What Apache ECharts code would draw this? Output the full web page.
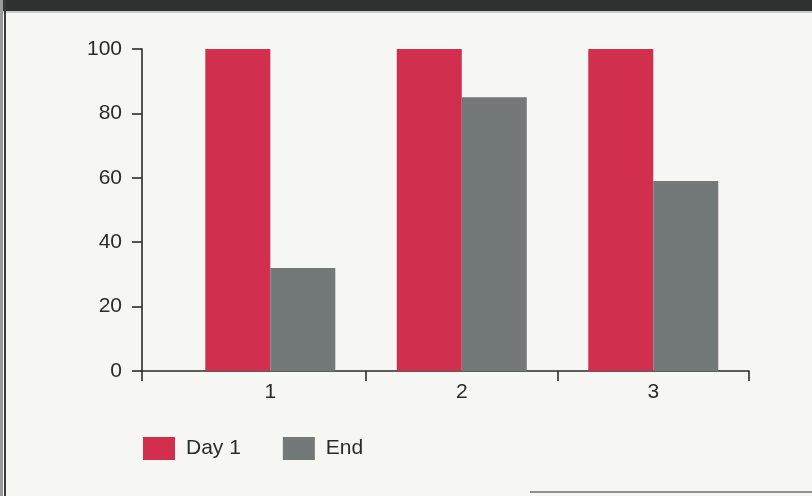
<!DOCTYPE html>
<html>
<head>
<meta charset="utf-8">
<script src="https://cdn.jsdelivr.net/npm/echarts@6/dist/echarts.min.js"></script>
<style>
  html, body { margin: 0; padding: 0; background: #f6f6f3; }
  #chart { width: 812px; height: 496px; }
</style>
</head>
<body>
<div id="chart"></div>
<script>
// Category positions and their labels
const categories = [1, 2, 3];
const categoryLabels = ['1', '2', '3'];
// Scores on the first day and at the end
const day1Values = [100, 100, 100];
const endValues = [32, 85, 59];
// Value axis ticks
const yTicks = [0, 20, 40, 60, 80, 100];
const seriesNames = ['Day 1', 'End'];

const RED = '#d22e4e';
const GREY = '#727978';
const INK = '#2b2b2b';
const FONT = '"Liberation Sans", Arial, Helvetica, sans-serif';
const FONT_SIZE = 21;

const xMin = 0.33, xMax = 3.5;
const xTickValues = [xMin, 1.5, 2.5, 3.5];

const chart = echarts.init(document.getElementById('chart'), null, { renderer: 'canvas' });

chart.setOption({
  backgroundColor: '#f6f6f3',
  animation: false,
  textStyle: { fontFamily: FONT },
  graphic: [
    // dark band across the top and the frame on the left
    { type: 'rect', shape: { x: 0, y: 0, width: 812, height: 11 }, style: { fill: '#2f3130' }, silent: true },
    { type: 'rect', shape: { x: 0, y: 11, width: 812, height: 2 }, style: { fill: '#c9cbca' }, silent: true },
    { type: 'rect', shape: { x: 0, y: 0, width: 3, height: 496 }, style: { fill: '#9a9c9b' }, silent: true },
    { type: 'rect', shape: { x: 4, y: 0, width: 2, height: 496 }, style: { fill: '#3a3c3b' }, silent: true },
    { type: 'rect', shape: { x: 530, y: 491, width: 282, height: 2 }, style: { fill: '#8e9190' }, silent: true }
  ],
  grid: { left: 142, right: 63, top: 49, bottom: 125, containLabel: false },
  legend: {
    left: 143,
    top: 437,
    padding: 0,
    icon: 'rect',
    itemWidth: 32,
    itemHeight: 23,
    itemGap: 42,
    data: seriesNames,
    textStyle: { fontSize: FONT_SIZE, color: INK, fontFamily: FONT, padding: [0, 0, 0, 6] }
  },
  xAxis: {
    type: 'value',
    min: xMin,
    max: xMax,
    splitLine: { show: false },
    axisLine: { show: true, lineStyle: { color: INK, width: 1.6 } },
    axisTick: {
      show: true,
      length: 10,
      customValues: xTickValues,
      lineStyle: { color: INK, width: 1.6 }
    },
    axisLabel: {
      customValues: categories,
      formatter: (v) => categoryLabels[categories.indexOf(Math.round(v))] || '',
      fontSize: FONT_SIZE,
      color: INK,
      margin: 11,
      fontFamily: FONT
    }
  },
  yAxis: {
    type: 'value',
    min: yTicks[0],
    max: yTicks[yTicks.length - 1],
    interval: 20,
    splitLine: { show: false },
    axisLine: { show: true, lineStyle: { color: INK, width: 1.6 } },
    axisTick: { show: true, length: 10, lineStyle: { color: INK, width: 1.6 } },
    axisLabel: { fontSize: FONT_SIZE, color: INK, margin: 20, fontFamily: FONT }
  },
  series: [
    {
      name: seriesNames[0],
      type: 'bar',
      data: categories.map((c, i) => [c, day1Values[i]]),
      barWidth: 65,
      barGap: '0%',
      itemStyle: { color: RED }
    },
    {
      name: seriesNames[1],
      type: 'bar',
      data: categories.map((c, i) => [c, endValues[i]]),
      barWidth: 65,
      barGap: '0%',
      itemStyle: { color: GREY }
    }
  ]
});
</script>
</body>
</html>
